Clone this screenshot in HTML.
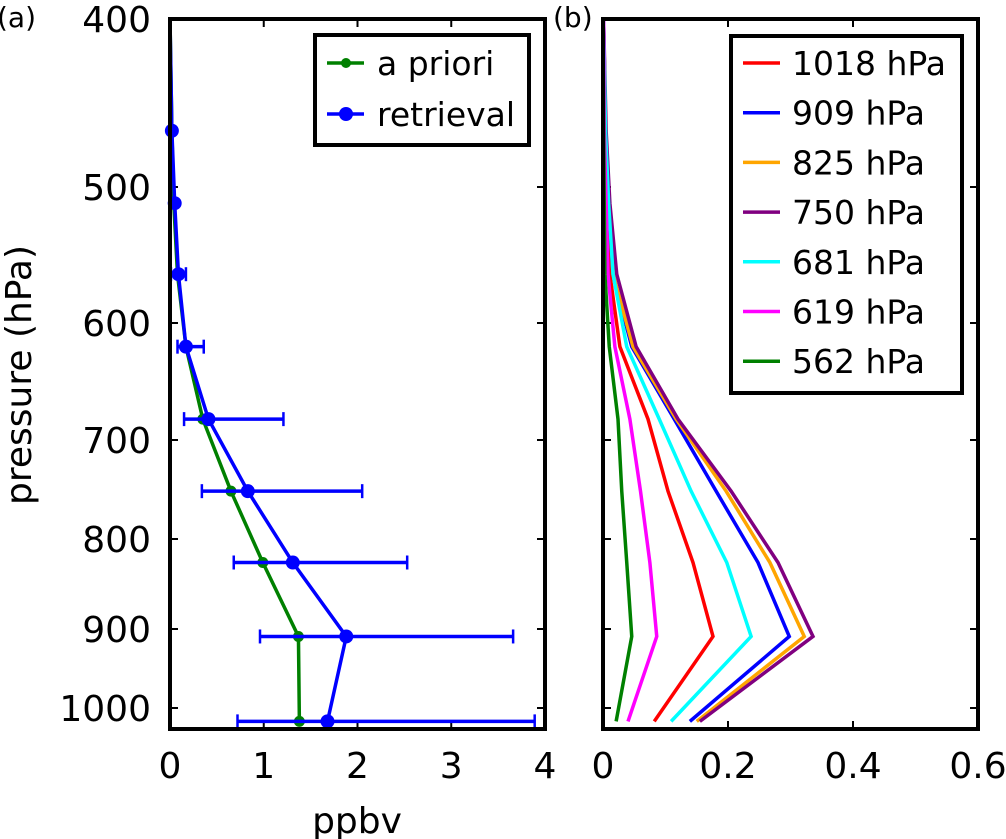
<!DOCTYPE html>
<html><head><meta charset="utf-8"><style>
html,body{margin:0;padding:0;background:#fff;}
svg{display:block;font-family:"DejaVu Sans","Liberation Sans",sans-serif;}
</style></head><body>
<svg id="chart" width="1006" height="839" viewBox="0 0 1006 839"></svg>
<script>
const levels = [400, 464, 511, 562, 619, 681, 750, 825, 909, 1018];
const aprioriVals = [0.0, 0.02, 0.04, 0.08, 0.17, 0.35, 0.65, 0.99, 1.37, 1.38];
const retrievalVals = [0.0, 0.02, 0.05, 0.09, 0.17, 0.41, 0.83, 1.31, 1.88, 1.68];
const errLow = [null, null, null, 0.01, 0.08, 0.15, 0.34, 0.68, 0.96, 0.72];
const errHigh = [null, null, null, 0.17, 0.36, 1.21, 2.05, 2.53, 3.66, 3.89];
const akNames = ["1018 hPa","909 hPa","825 hPa","750 hPa","681 hPa","619 hPa","562 hPa"];
const akColors = ["#ff0000","#0000ff","#ffa500","#800080","#00ffff","#ff00ff","#008000"];
const ak1018 = [0.001,0.003,0.007,0.011,0.027,0.072,0.104,0.144,0.176,0.082];
const ak909  = [0.001,0.004,0.009,0.016,0.046,0.114,0.181,0.248,0.298,0.139];
const ak825  = [0.001,0.004,0.010,0.016,0.048,0.117,0.197,0.267,0.322,0.150];
const ak750  = [0.001,0.005,0.011,0.022,0.053,0.120,0.205,0.280,0.336,0.155];
const ak681  = [0.001,0.004,0.009,0.016,0.038,0.090,0.141,0.198,0.237,0.109];
const ak619  = [0.001,0.002,0.005,0.008,0.019,0.043,0.060,0.075,0.086,0.040];
const ak562  = [0.000,0.001,0.002,0.003,0.010,0.024,0.030,0.038,0.046,0.021];
const akSeries = [ak1018, ak909, ak825, ak750, ak681, ak619, ak562];
const yTicks = [400,500,600,700,800,900,1000];
const xTicksA = [0,1,2,3,4];
const xTicksB = [0,0.2,0.4,0.6];
const xTickLabelsB = ["0","0.2","0.4","0.6"];

const NS = "http://www.w3.org/2000/svg";
const svg = document.getElementById('chart');
function mk(tag, attrs, parent){ const e=document.createElementNS(NS,tag); for(const k in attrs) e.setAttribute(k,attrs[k]); (parent||svg).appendChild(e); return e; }

const calP = [400,500,600,700,800,900,1000];
const calY = [19,187,323,440,539,629,708];
function yScale(p){
  let i=0; while(i<calP.length-2 && p>calP[i+1]) i++;
  const t=(Math.log(p)-Math.log(calP[i]))/(Math.log(calP[i+1])-Math.log(calP[i]));
  return calY[i]+t*(calY[i+1]-calY[i]);
}
const TOP=19, BOT=729;
const A={x0:170,x1:545,max:4}, B={x0:603,x1:978,max:0.6};
const xa=v=>A.x0+v/A.max*(A.x1-A.x0);
const xb=v=>B.x0+v/B.max*(B.x1-B.x0);
const LW=3.5;

function axes(P, xs, ticks, labels, name){
  const g=mk('g',{});
  
  
  ticks.forEach((t,i)=>{
    const x=xs(t);
    mk('line',{x1:x,x2:x,y1:BOT,y2:BOT-8,stroke:'#000','stroke-width':2},g);
    mk('line',{x1:x,x2:x,y1:TOP,y2:TOP+8,stroke:'#000','stroke-width':2},g);
    const tx=mk('text',{x:x,y:778,'font-size':36,'text-anchor':'middle'},g);
    
    
    tx.textContent=labels[i];
  });
  yTicks.forEach(p=>{
    const y=yScale(p);
    mk('line',{x1:P.x0,x2:P.x0+8,y1:y,y2:y,stroke:'#000','stroke-width':2},g);
    mk('line',{x1:P.x1,x2:P.x1-8,y1:y,y2:y,stroke:'#000','stroke-width':2},g);
  });
}
function frame(P,name){
  const r=mk('rect',{x:P.x0,y:TOP,width:P.x1-P.x0,height:BOT-TOP,fill:'none',stroke:'#000','stroke-width':4});
  
  
}

axes(A, xa, xTicksA, xTicksA.map(String), 'panel-a-axes');
yTicks.forEach(p=>{
  const t=mk('text',{x:151,y:yScale(p)+13,'font-size':36,'text-anchor':'end'});
  
  
  t.textContent=p;
});
const gA=mk('g',{});


mk('polyline',{points:levels.map((p,i)=>xa(aprioriVals[i])+','+yScale(p)).join(' '),fill:'none',stroke:'#008000','stroke-width':LW},gA);
levels.forEach((p,i)=>{ if(i>=4){ const c=mk('circle',{cx:xa(aprioriVals[i]),cy:yScale(p),r:5.5,fill:'#008000'},gA);
  
   }});
levels.forEach((p,i)=>{ if(errLow[i]!==null){ const y=yScale(p),l=xa(errLow[i]),h=xa(errHigh[i]);
  mk('line',{x1:l,x2:h,y1:y,y2:y,stroke:'#0000ff','stroke-width':LW},gA);
  mk('line',{x1:l,x2:l,y1:y-7,y2:y+7,stroke:'#0000ff','stroke-width':2.5},gA);
  mk('line',{x1:h,x2:h,y1:y-7,y2:y+7,stroke:'#0000ff','stroke-width':2.5},gA);}});
mk('polyline',{points:levels.map((p,i)=>xa(retrievalVals[i])+','+yScale(p)).join(' '),fill:'none',stroke:'#0000ff','stroke-width':LW},gA);
levels.forEach((p,i)=>{ if(i>=1){ const c=mk('circle',{cx:xa(retrievalVals[i]),cy:yScale(p),r:7,fill:'#0000ff'},gA);
  
   }});
frame(A,'panel-a-frame');

const lgA=mk('g',{});


mk('rect',{x:315,y:35,width:214,height:110,fill:'#fff',stroke:'#000','stroke-width':4},lgA);
[["a priori","#008000",63,5],["retrieval","#0000ff",114,7]].forEach(e=>{
  mk('line',{x1:327,x2:364,y1:e[2],y2:e[2],stroke:e[1],'stroke-width':LW},lgA);
  mk('circle',{cx:346,cy:e[2],r:e[3],fill:e[1]},lgA);
  const t=mk('text',{x:377,y:e[2]+12,'font-size':33},lgA);
  
  
  t.textContent=e[0];
});

axes(B, xb, xTicksB, xTickLabelsB, 'panel-b-axes');
const gB=mk('g',{});


akSeries.forEach((s,k)=>{
  const pl=mk('polyline',{points:levels.map((p,i)=>xb(s[i])+','+yScale(p)).join(' '),fill:'none',stroke:akColors[k],'stroke-width':LW},gB);
  
  
});
frame(B,'panel-b-frame');
const lgB=mk('g',{});


mk('rect',{x:731,y:36,width:231,height:357,fill:'#fff',stroke:'#000','stroke-width':4},lgB);
akNames.forEach((n,k)=>{
  const y=63+k*49.7;
  mk('line',{x1:743,x2:780,y1:y,y2:y,stroke:akColors[k],'stroke-width':LW},lgB);
  const t=mk('text',{x:792,y:y+12,'font-size':33},lgB);
  
  
  t.textContent=n;
});

function lbl(txt,attrs,name){ const t=mk('text',attrs);   t.textContent=txt; }
lbl('(a)',{x:-3,y:27,'font-size':28},'panel-a-label');
lbl('(b)',{x:553,y:27,'font-size':28},'panel-b-label');
lbl('ppbv',{x:357,y:833,'font-size':36,'text-anchor':'middle'},'x-axis-title');
lbl('pressure (hPa)',{x:0,y:0,'font-size':36,'text-anchor':'middle',transform:'translate(31,375) rotate(-90)'},'y-axis-title');
</script>
</body></html>
